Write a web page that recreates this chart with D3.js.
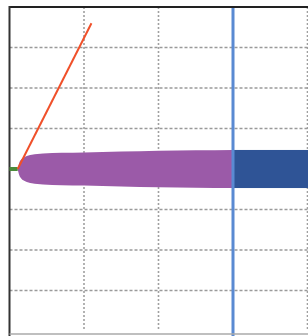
<!DOCTYPE html>
<html>
<head>
<meta charset="utf-8">
<script src="https://cdn.jsdelivr.net/npm/d3@7"></script>
<style>
  body { margin: 0; background: #fff; }
</style>
</head>
<body>
<script>
var w = 308;
var h = 336;

// grid ticks
var xTicks = [1, 2, 3, 4];
var yTicks = [-3, -2, -1, 0, 1, 2, 3];

// purple plume: x position and half thickness
var plumeX = [0.11, 0.13, 0.16, 0.21, 0.3, 0.45, 0.7, 1.0, 1.5, 2.0, 2.5, 3.0];
var plumeHalf = [0, 0.15, 0.24, 0.3, 0.35, 0.38, 0.4, 0.41, 0.43, 0.45, 0.46, 0.47];

// dark blue block after the vertical marker
var blockX = [3, 4.1];
var blockHalf = 0.47;

// vertical marker
var markerX = 3;

// green stub and red ray
var stubX = [0, 0.11];
var rayX = [0.11, 1.1];
var rayY = [0, 3.6];

var x = d3.scaleLinear().domain([0, 4]).range([9.5, 307.5]);
var y = d3.scaleLinear().domain([-4, 4]).range([331, 7]);

var svg = d3.select('body').append('svg')
  .attr('width', w).attr('height', h);

// grid
svg.selectAll('line.gx').data(xTicks).enter().append('line')
  .attr('class', 'gx')
  .attr('x1', function(d){ return x(d); })
  .attr('x2', function(d){ return x(d); })
  .attr('y1', y(4)).attr('y2', y(-4))
  .attr('stroke', '#a0a0a0').attr('stroke-width', 1.6)
  .attr('stroke-dasharray', '2,2');

svg.selectAll('line.gy').data(yTicks).enter().append('line')
  .attr('class', 'gy')
  .attr('x1', x(0)).attr('x2', w)
  .attr('y1', function(d){ return y(d); })
  .attr('y2', function(d){ return y(d); })
  .attr('stroke', '#9a9a9a').attr('stroke-width', 1.6)
  .attr('stroke-dasharray', '3,2');

// purple plume
var plume = plumeX.map(function(d, i){ return {x: d, h: plumeHalf[i]}; });
var area = d3.area()
  .x(function(d){ return x(d.x); })
  .y0(function(d){ return y(-d.h); })
  .y1(function(d){ return y(d.h); })
  .curve(d3.curveMonotoneX);
svg.append('path').datum(plume)
  .attr('d', area)
  .attr('fill', '#9b5aa8');

// dark blue block
svg.append('rect')
  .attr('x', x(blockX[0])).attr('width', x(blockX[1]) - x(blockX[0]))
  .attr('y', y(blockHalf)).attr('height', y(-blockHalf) - y(blockHalf))
  .attr('fill', '#2f5496');

// vertical marker
svg.append('line')
  .attr('x1', x(markerX)).attr('x2', x(markerX))
  .attr('y1', y(4)).attr('y2', h)
  .attr('stroke', '#5a8ad2').attr('stroke-width', 3);

// borders
svg.append('line')
  .attr('x1', x(0)).attr('x2', w).attr('y1', y(4)).attr('y2', y(4))
  .attr('stroke', '#222').attr('stroke-width', 2);
svg.append('line')
  .attr('x1', x(0)).attr('x2', x(0)).attr('y1', y(4) - 1).attr('y2', h)
  .attr('stroke', '#333').attr('stroke-width', 2);
svg.append('line')
  .attr('x1', x(0)).attr('x2', w).attr('y1', 334).attr('y2', 334)
  .attr('stroke', '#aaa').attr('stroke-width', 1.5);

// green stub
svg.append('line')
  .attr('x1', x(stubX[0])).attr('x2', x(stubX[1]))
  .attr('y1', y(0)).attr('y2', y(0))
  .attr('stroke', '#4b8b3b').attr('stroke-width', 4);

// red ray
svg.append('line')
  .attr('x1', x(rayX[0])).attr('y1', y(rayY[0]))
  .attr('x2', x(rayX[1])).attr('y2', y(rayY[1]))
  .attr('stroke', '#f0502a').attr('stroke-width', 2);
</script>
</body>
</html>
